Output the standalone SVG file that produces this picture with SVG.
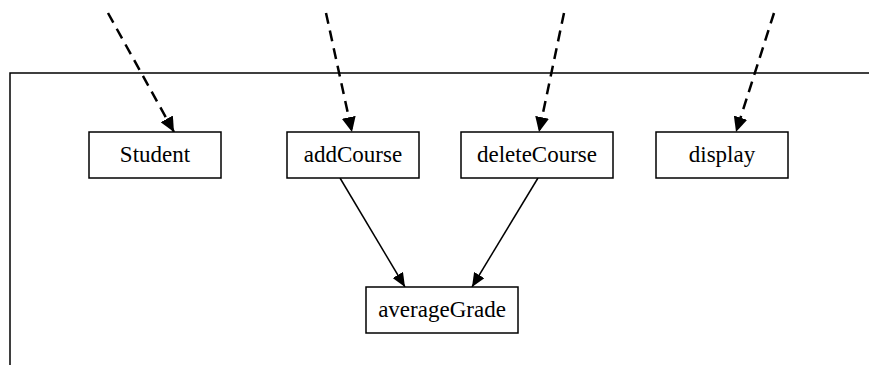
<svg xmlns="http://www.w3.org/2000/svg" width="869" height="365" viewBox="0 0 869 365">
<style>
.box{fill:#fff;stroke:#000;stroke-width:1.5}
.lbl{font-family:"Liberation Serif","Times New Roman",serif;font-size:23px;fill:#000;text-anchor:middle}
.dash{fill:none;stroke:#000;stroke-width:2.5;stroke-dasharray:11 7}
.solid{fill:none;stroke:#000;stroke-width:1.5}
.frame{fill:none;stroke:#000;stroke-width:1.5}
</style>
<defs>
<marker id="ah" markerWidth="15" markerHeight="12" refX="14" refY="6" orient="auto" markerUnits="userSpaceOnUse">
<path d="M0,0 L14,6 L0,12 Z" fill="#000"/>
</marker>
<marker id="ahd" markerWidth="16" markerHeight="14" refX="15" refY="7" orient="auto" markerUnits="userSpaceOnUse">
<path d="M0,0 L15,7 L0,14 Z" fill="#000"/>
</marker>
</defs>
<g id="frame"><path class="frame" d="M869,73 H10 V365"/></g>
<g id="connectors">
<line class="dash" x1="108" y1="13" x2="174" y2="132" marker-end="url(#ahd)"/>
<line class="dash" x1="326" y1="13" x2="352" y2="132" marker-end="url(#ahd)"/>
<line class="dash" x1="564" y1="13" x2="539" y2="132" marker-end="url(#ahd)"/>
<line class="dash" x1="774" y1="13" x2="736" y2="132" marker-end="url(#ahd)"/>
<line class="solid" x1="340" y1="178" x2="405" y2="287" marker-end="url(#ah)"/>
<line class="solid" x1="538" y1="178" x2="472" y2="287" marker-end="url(#ah)"/>
</g>
<g id="student"><rect class="box" x="89" y="132" width="132" height="46"/><text class="lbl" x="155" y="162">Student</text></g>
<g id="addCourse"><rect class="box" x="287" y="132" width="132" height="46"/><text class="lbl" x="353" y="162">addCourse</text></g>
<g id="deleteCourse"><rect class="box" x="461" y="132" width="152" height="46"/><text class="lbl" x="537" y="162">deleteCourse</text></g>
<g id="display"><rect class="box" x="656" y="132" width="132" height="46"/><text class="lbl" x="722" y="162">display</text></g>
<g id="averageGrade"><rect class="box" x="366" y="287" width="152" height="46"/><text class="lbl" x="442" y="317">averageGrade</text></g>
</svg>
